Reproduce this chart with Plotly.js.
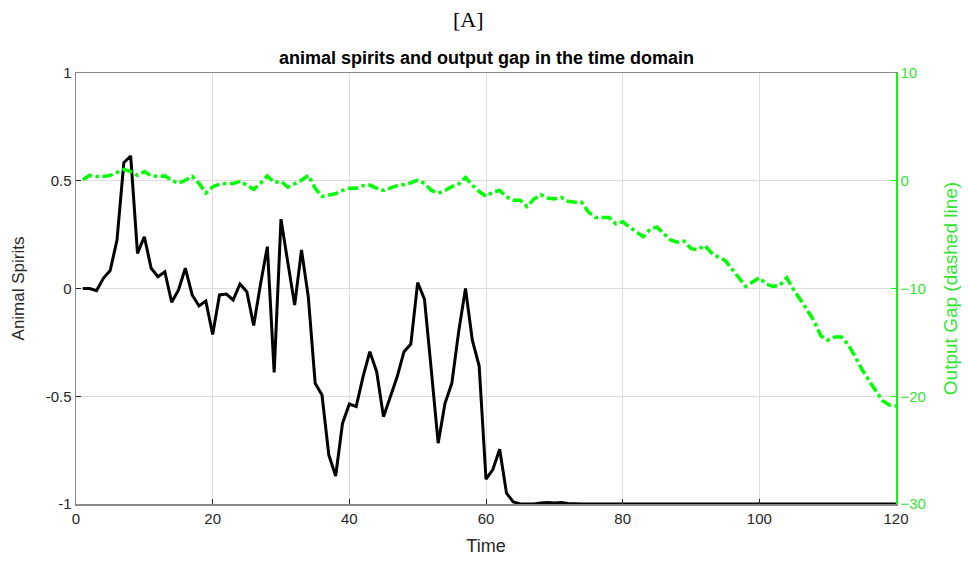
<!DOCTYPE html>
<html>
<head>
<meta charset="utf-8">
<script src="https://cdn.plot.ly/plotly-3.0.1.min.js"></script>
<style>
  html, body { margin: 0; padding: 0; background: #fff; }
  #chart { width: 969px; height: 561px; }
</style>
</head>
<body>
<div id="chart"></div>
<script>
// Time steps 1..120
const time = Array.from({length: 120}, (_, i) => i + 1);

// Animal spirits (left axis)
const animalSpirits = [
  0, 0, -0.01, 0.047, 0.083, 0.225, 0.584, 0.615, 0.163, 0.24,
  0.094, 0.055, 0.078, -0.064, -0.007, 0.094, -0.03, -0.081, -0.058, -0.213,
  -0.03, -0.026, -0.053, 0.021, -0.015, -0.172, 0.02, 0.194, -0.389, 0.322,
  0.12, -0.077, 0.179, -0.04, -0.44, -0.494, -0.773, -0.87, -0.626, -0.536,
  -0.548, -0.41, -0.293, -0.386, -0.595, -0.5, -0.41, -0.293, -0.258, 0.027,
  -0.05, -0.38, -0.718, -0.533, -0.44, -0.2, 0.0, -0.24, -0.36, -0.885,
  -0.84, -0.746, -0.95, -0.99, -1.0, -1.0, -1.0, -0.995, -0.993, -0.995,
  -0.993, -0.998, -1, -1, -1, -1, -1, -1, -1, -1,
  -1, -1, -1, -1, -1, -1, -1, -1, -1, -1,
  -1, -1, -1, -1, -1, -1, -1, -1, -1, -1,
  -1, -1, -1, -1, -1, -1, -1, -1, -1, -1,
  -1, -1, -1, -1, -1, -1, -1, -1, -1, -1
];

// Output gap (right axis)
const outputGap = [
  0.1, 0.5, 0.4, 0.4, 0.5, 0.8, 1.05, 0.85, 0.5, 0.85,
  0.45, 0.4, 0.45, 0.05, -0.25, 0.05, 0.4, -0.25, -1.15, -0.55,
  -0.3, -0.25, -0.25, -0.05, -0.4, -0.8, -0.25, 0.45, -0.15, -0.05,
  -0.6, -0.25, 0.05, 0.5, -0.7, -1.45, -1.3, -1.2, -0.9, -0.7,
  -0.7, -0.45, -0.4, -0.7, -0.9, -0.65, -0.45, -0.35, -0.2, 0.05,
  -0.25, -0.9, -1.15, -0.9, -0.55, -0.3, 0.3, -0.4, -1.0, -1.45,
  -1.05, -0.9, -1.5, -1.8, -1.8, -2.4, -1.7, -1.3, -1.6, -1.7,
  -1.55, -1.9, -2.0, -2.0, -2.9, -3.4, -3.4, -3.4, -4.0, -3.8,
  -4.3, -4.8, -5.2, -4.5, -4.3, -4.9, -5.5, -5.7, -5.6, -6.3,
  -6.4, -6.0, -6.7, -7.1, -7.4, -8.2, -9.0, -9.8, -9.4, -9.0,
  -9.6, -9.8, -9.7, -9.0, -10.1, -11.0, -12.0, -13.0, -14.4, -14.8,
  -14.5, -14.5, -15.2, -16.3, -17.5, -18.5, -19.5, -20.4, -20.8, -20.9
];

const leftTicks = [-1, -0.5, 0, 0.5, 1];
const leftTickText = ['-1', '-0.5', '0', '0.5', '1'];
const rightTicks = [-30, -20, -10, 0, 10];
const xTicks = [0, 20, 40, 60, 80, 100, 120];

const FONT = 'Liberation Sans, Arial, sans-serif';
const GREEN = '#00ff00';
const GREEN_TEXT = '#2fe62f';
const AXIS_GRAY = '#8a8a8a';

const traces = [
  {
    x: time, y: outputGap, yaxis: 'y2', type: 'scatter', mode: 'lines',
    line: {color: GREEN, width: 3.5, dash: 'dashdot'},
    hoverinfo: 'skip'
  },
  {
    x: time, y: animalSpirits, type: 'scatter', mode: 'lines',
    line: {color: '#000000', width: 3},
    hoverinfo: 'skip'
  }
];

const layout = {
  width: 969, height: 561,
  margin: {l: 76, r: 73, t: 73, b: 57},
  paper_bgcolor: '#ffffff', plot_bgcolor: '#ffffff',
  showlegend: false,
  font: {family: FONT, color: '#262626'},
  xaxis: {
    range: [0, 120], tickvals: xTicks,
    ticks: 'inside', ticklen: 5, tickcolor: '#262626',
    tickfont: {size: 15, color: '#262626'},
    showgrid: true, gridcolor: '#dedede', gridwidth: 1,
    zeroline: false,
    showline: true, linecolor: AXIS_GRAY, linewidth: 1.5, mirror: true,
    title: {text: 'Time', font: {size: 18, color: '#262626'}, standoff: 14}
  },
  yaxis: {
    range: [-1, 1], tickvals: leftTicks, ticktext: leftTickText,
    ticks: 'inside', ticklen: 5, tickcolor: '#262626',
    tickfont: {size: 15, color: '#262626'},
    showgrid: true, gridcolor: '#dedede', gridwidth: 1,
    zeroline: false,
    showline: true, linecolor: AXIS_GRAY, linewidth: 1.5,
    title: {text: 'Animal Spirits', font: {size: 17, color: '#262626'}, standoff: 16}
  },
  yaxis2: {
    overlaying: 'y', side: 'right', range: [-30, 10], tickvals: rightTicks,
    ticks: 'inside', ticklen: 5, tickcolor: GREEN,
    tickfont: {size: 15, color: GREEN_TEXT},
    showgrid: false, zeroline: false,
    showline: true, linecolor: GREEN, linewidth: 1.5,
    title: {text: 'Output Gap (dashed line)', font: {size: 19, color: GREEN_TEXT}, standoff: 18}
  },
  annotations: [
    {
      text: '[A]', xref: 'paper', yref: 'paper', x: 0.5, y: 1, xshift: -18, yshift: 54,
      showarrow: false, xanchor: 'center', yanchor: 'middle',
      font: {family: 'Liberation Serif, DejaVu Serif, serif', size: 22, color: '#000'}
    },
    {
      text: '<b>animal spirits and output gap in the time domain</b>',
      xref: 'paper', yref: 'paper', x: 0.5, y: 1, yshift: 15,
      showarrow: false, xanchor: 'center', yanchor: 'middle',
      font: {family: FONT, size: 18, color: '#000'}
    }
  ]
};

Plotly.newPlot('chart', traces, layout, {staticPlot: true, displayModeBar: false});
</script>
</body>
</html>
